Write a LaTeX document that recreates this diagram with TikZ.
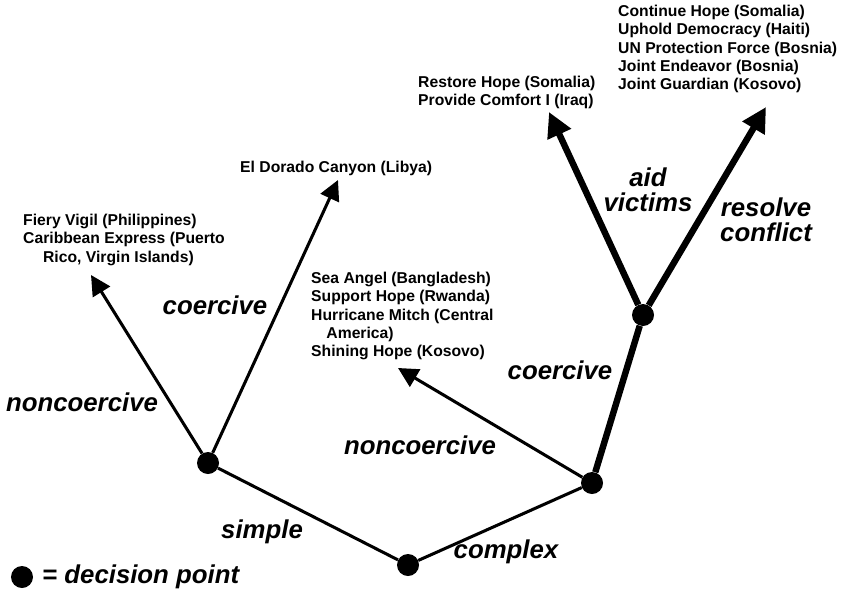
\documentclass[tikz,border=0pt]{standalone}
\usepackage{fontspec}
\setmainfont{Liberation Sans}
\usepackage{tikz}
\usetikzlibrary{arrows.meta}

\begin{document}
\begin{tikzpicture}[x=0.03cm,y=-0.03cm,
			decision/.style={circle,fill=black,inner sep=0pt,minimum size=0.66cm},
			thinbranch/.style={line width=2.6pt,-{Triangle[length=17pt,width=17pt]}},
			thickline/.style={line width=5.5pt},
			thickbranch/.style={thickline,-{Triangle[length=21pt,width=21pt]}},
			ops/.style={align=left,anchor=north west,inner sep=0pt,font=\fontsize{13.4}{15.6}\selectfont\bfseries},
			choice/.style={align=center,inner sep=0pt,font=\fontsize{22}{21.5}\selectfont\bfseries\itshape}]
			\useasboundingbox (0,0) rectangle (847,591);
			% decision points
			\node[decision] (root) at (408,565) {};
			\node[decision] (simp) at (208,463) {};
			\node[decision] (comp) at (592,483) {};
			\node[decision] (coer) at (643,315) {};
			% arrow ends
			\coordinate (fiery) at (91,275);
			\coordinate (libya) at (338,180);
			\coordinate (relief) at (398,368);
			\coordinate (restore) at (549,112);
			\coordinate (guard) at (766,107);
			% branches
			\draw[line width=2.6pt] (simp) -- (root);
			\draw[line width=2.6pt] (root) -- (comp);
			\draw[thinbranch] (simp) -- (fiery);
			\draw[thinbranch] (simp) -- (libya);
			\draw[thinbranch] (comp) -- (relief);
			\draw[thickline] (comp) -- (coer);
			\draw[thickbranch] (coer) -- (restore);
			\draw[thickbranch] (coer) -- (guard);
			% operations
			\node[ops] (opsfiery) at (23,214) {Fiery Vigil (Philippines)\\Caribbean Express (Puerto\\\hspace{17pt}Rico, Virgin Islands)};
			\node[ops] (opslibya) at (240,161) {El Dorado Canyon (Libya)};
			\node[ops] (opsrelief) at (311,272) {Sea Angel (Bangladesh)\\Support Hope (Rwanda)\\Hurricane Mitch (Central\\\hspace{13pt}America)\\Shining Hope (Kosovo)};
			\node[ops] (opsrestore) at (418,76) {Restore Hope (Somalia)\\Provide Comfort I (Iraq)};
			\node[ops] (opsguard) at (618,5) {Continue Hope (Somalia)\\Uphold Democracy (Haiti)\\UN Protection Force (Bosnia)\\Joint Endeavor (Bosnia)\\Joint Guardian (Kosovo)};
			% choices
			\node[choice] (lsimple) at (262,532) {simple};
			\node[choice] (lcomplex) at (506,552) {complex};
			\node[choice] (lnoncoer) at (82,402) {noncoercive};
			\node[choice] (lcoer) at (215,305) {coercive};
			\node[choice] (lnoncoerb) at (420,445) {noncoercive};
			\node[choice] (lcoerb) at (560,370) {coercive};
			\node[choice] (laid) at (648,190) {aid\\victims};
			\node[choice] (lresolve) at (766,220) {resolve\\conflict};
			% legend
			\node[decision] (key) at (22,577) {};
			\node[choice,anchor=west] (keytext) at (42,577) {= decision point};
\end{tikzpicture}
\end{document}
